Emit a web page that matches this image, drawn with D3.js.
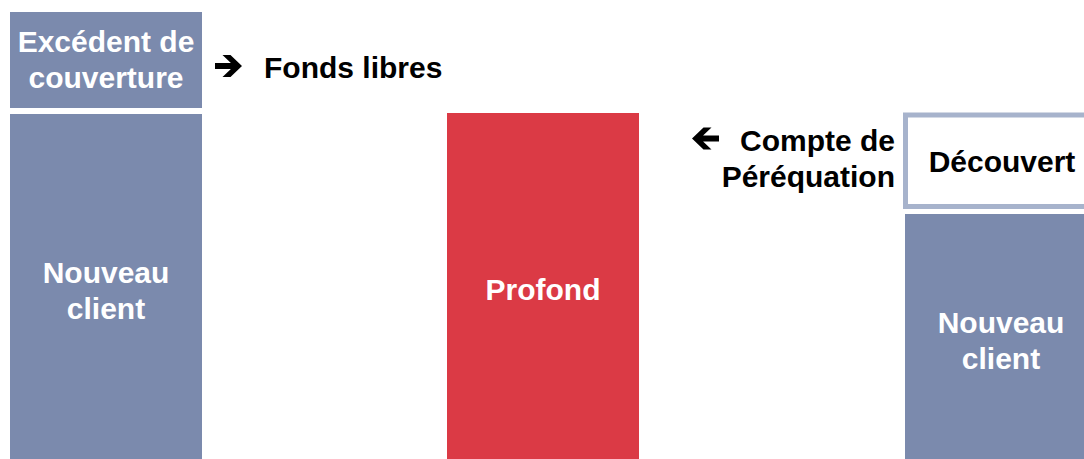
<!DOCTYPE html>
<html>
<head>
<meta charset="utf-8">
<script src="https://cdn.jsdelivr.net/npm/d3@7"></script>
<style>
html,body{margin:0;padding:0;background:#fff;}
svg{display:block;}
text{font-family:"Liberation Sans",Arial,sans-serif;font-weight:bold;}
</style>
</head>
<body>
<svg id="chart" width="1084" height="459"></svg>
<script>
// ---- data ----
const columns = ["gauche", "milieu", "droite"];
const nouveauClient = [345, 0, 245];
const profond = [0, 346, 0];
const excedent = [96, 0, 0];
const decouvert = [0, 0, 94];
const labelNouveau = ["Nouveau", "client"];
const labelProfond = ["Profond"];
const labelExcedent = ["Excédent de", "couverture"];
const labelDecouvert = ["Découvert"];
const noteFonds = ["Fonds libres"];
const noteCompte = ["Compte de", "Péréquation"];

// ---- layout ----
const W = 1084, H = 459;
const svg = d3.select("#chart");
const x = d3.scaleOrdinal().domain(columns).range([10, 447, 905]);
const bw = 192;
const y = d3.scaleLinear().domain([0, 447]).range([H, 12]);
const gap = 6;
const blue = "#7b8aad", red = "#db3a45", outline = "#a7b3cc";
const fs = 30, lh = 36;

// build stacked segments
const segs = [];
columns.forEach((c, i) => {
  let base = 0;
  [[nouveauClient, "nc", labelNouveau], [profond, "pr", labelProfond],
   [excedent, "ex", labelExcedent], [decouvert, "de", labelDecouvert]].forEach(([arr, key, lab]) => {
    const v = arr[i];
    if (!v) return;
    const y0 = base === 0 ? 0 : base + gap;
    segs.push({col: c, key, y0, y1: y0 + v, lab});
    base = y0 + v;
  });
});

const g = svg.append("g");
segs.forEach(s => {
  const x0 = x(s.col);
  let cy;
  if (s.key === "de") {
    // outlined segment (stroke centred on box edge)
    const top = y(s.y1) + 1, bot = y(s.y0 + 1.5);
    g.append("rect")
      .attr("x", x0 + 0.5).attr("y", top)
      .attr("width", bw).attr("height", bot - top)
      .attr("fill", "#fff").attr("stroke", outline).attr("stroke-width", 5);
    cy = (top + bot) / 2;
  } else {
    g.append("rect")
      .attr("x", x0).attr("y", y(s.y1))
      .attr("width", bw).attr("height", y(s.y0) - y(s.y1))
      .attr("fill", s.key === "pr" ? red : blue);
    cy = (y(s.y0) + y(s.y1)) / 2;
  }
  const n = s.lab.length;
  const off = s.key === "de" ? 11 : (s.key === "ex" ? 10 : 14);
  const t = g.append("text")
    .attr("text-anchor", "middle")
    .attr("font-size", fs)
    .attr("fill", s.key === "de" ? "#000" : "#fff");
  s.lab.forEach((l, k) => {
    t.append("tspan")
      .attr("x", x0 + bw / 2 + (s.key === "de" ? 1 : 0))
      .attr("y", cy + off + (k - (n - 1) / 2) * lh)
      .text(l);
  });
});

// notes with arrows
function arrow(cx, cy, dir) {
  const p = [[-13.5, -3], [2.4, -3], [-6, -11], [2, -11], [13.5, 0], [2, 11], [-6, 11], [2.4, 3], [-13.5, 3]];
  g.append("path")
    .attr("d", "M" + p.map(([a, b]) => `${cx + dir * a},${cy + b}`).join("L") + "Z")
    .attr("fill", "#000");
}
const xNote1 = x(columns[0]) + bw;
arrow(xNote1 + 26.5, 66, 1);
g.append("text").attr("x", xNote1 + 62).attr("y", 77.5)
  .attr("font-size", fs).attr("fill", "#000").text(noteFonds[0]);

const xNote2 = x(columns[2]) - 10;
arrow(x(columns[2]) - 199.5, 138.5, -1);
const t2 = g.append("text").attr("text-anchor", "end").attr("font-size", fs).attr("fill", "#000");
noteCompte.forEach((l, k) => {
  t2.append("tspan").attr("x", xNote2).attr("y", 150.5 + k * lh).text(l);
});
</script>
</body>
</html>
